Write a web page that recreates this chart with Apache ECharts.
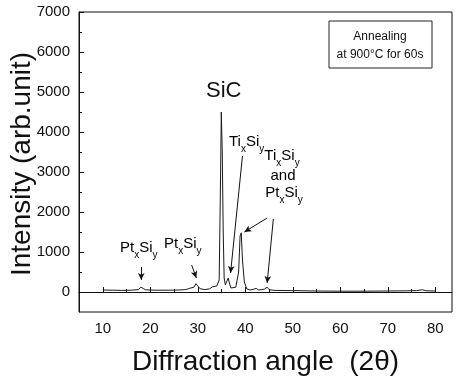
<!DOCTYPE html>
<html>
<head>
<meta charset="utf-8">
<script src="https://cdn.jsdelivr.net/npm/echarts@6/dist/echarts.min.js"></script>
<style>
html,body{margin:0;padding:0;background:#fff;}
#chart{width:456px;height:379px;}
</style>
</head>
<body>
<div id="chart"></div>
<script>
// Diffraction angle (2θ) and intensity (arb. unit)
var angles = [10, 12, 14, 16, 17.5, 18.0, 18.2, 18.5, 19, 21, 24, 26, 27.5, 28.2, 28.6, 29.2, 29.6, 30.0, 30.5, 31.5, 32.5, 33.1, 33.5, 34.0, 34.3, 34.5, 34.75, 34.95, 35.15, 35.35, 35.55, 35.8, 36.1, 36.4, 36.7, 37.0, 37.4, 38.0, 38.6, 38.9, 39.15, 39.4, 39.8, 40.3, 41, 41.8, 42.3, 42.8, 43.5, 44.0, 44.6, 45.0, 46, 50, 55, 60, 65, 70, 74, 76, 77.3, 78, 80];
var intensity = [50, 45, 40, 45, 60, 120, 150, 90, 55, 45, 45, 50, 60, 90, 70, 120, 210, 150, 80, 60, 80, 130, 90, 150, 200, 300, 2500, 4500, 3500, 1500, 350, 180, 200, 350, 200, 100, 80, 120, 500, 1400, 1480, 800, 250, 80, 50, 70, 90, 50, 60, 70, 120, 60, 40, 35, 25, 20, 20, 25, 30, 35, 55, 30, 25];
var xMajorTicks = [10, 20, 30, 40, 50, 60, 70, 80];
var xMinorTicks = [15, 25, 35, 45, 55, 65, 75];
var yMajorTicks = [0, 1000, 2000, 3000, 4000, 5000, 6000, 7000];
var yMinorTicks = [500, 1500, 2500, 3500, 4500, 5500, 6500];
// annotation arrows: [fromAngle, fromIntensity, toAngle, toIntensity]
var arrows = [
  [18.1, 625, 18.1, 300],
  [28.7, 675, 29.7, 350],
  [39.4, 3400, 36.9, 475],
  [44.6, 1850, 39.8, 1500],
  [45.9, 1825, 44.6, 225]
];

var seriesData = angles.map(function (a, i) { return [a, intensity[i]]; });
var FONT = '"Liberation Sans", Arial, sans-serif';

var chart = echarts.init(document.getElementById('chart'), null, {renderer: 'canvas'});

function subLabel(main1, sub1, main2, sub2) {
  return '{m|' + main1 + '}{s|' + sub1 + '}{m|' + main2 + '}{s|' + sub2 + '}';
}
var rich = {
  m: {fontSize: 15, fontFamily: FONT, color: '#111', lineHeight: 20, verticalAlign: 'top'},
  s: {fontSize: 10, fontFamily: FONT, color: '#111', lineHeight: 8, verticalAlign: 'bottom'}
};
function plain(v) { return String(v); }

var option = {
  animation: false,
  backgroundColor: '#fff',
  grid: {left: 79, right: 4, top: 12, bottom: 67, outerBoundsMode: 'none', containLabel: false,
         show: true, borderColor: '#111', borderWidth: 1, backgroundColor: 'transparent'},
  xAxis: [{
    type: 'value', min: 5, max: 83.5,
    axisLine: {lineStyle: {color: '#111', width: 1}},
    axisTick: {inside: true, length: 5, customValues: xMajorTicks, lineStyle: {color: '#111'}},
    axisLabel: {customValues: xMajorTicks, formatter: plain, color: '#111', fontSize: 15, fontFamily: FONT, margin: 9},
    splitLine: {show: false},
    name: 'Diffraction angle  (2θ)', nameLocation: 'middle', nameGap: 36,
    nameTextStyle: {fontSize: 28, fontFamily: FONT, color: '#111'}
  }, {
    type: 'value', min: 5, max: 83.5, position: 'bottom',
    axisLine: {show: false},
    axisTick: {inside: true, length: 3, customValues: xMinorTicks, lineStyle: {color: '#111'}},
    axisLabel: {show: false}, splitLine: {show: false}
  }],
  yAxis: [{
    type: 'value', min: -500, max: 7000,
    axisLine: {show: true, lineStyle: {color: '#111', width: 1}},
    axisTick: {show: true, inside: true, length: 5, customValues: yMajorTicks, lineStyle: {color: '#111'}},
    axisLabel: {customValues: yMajorTicks, formatter: plain, color: '#111', fontSize: 15, fontFamily: FONT, margin: 9},
    splitLine: {show: false}
  }, {
    type: 'value', min: -500, max: 7000, position: 'left',
    axisLine: {show: false},
    axisTick: {show: true, inside: true, length: 3, customValues: yMinorTicks, lineStyle: {color: '#111'}},
    axisLabel: {show: false}, splitLine: {show: false}
  }],
  series: [{
    type: 'line',
    data: seriesData,
    showSymbol: false,
    lineStyle: {color: '#1a1a1a', width: 1},
    silent: true,
    markLine: {
      silent: true,
      symbol: ['none', 'arrow'],
      symbolSize: [5, 7],
      lineStyle: {color: '#111', width: 1, type: 'solid'},
      label: {show: false},
      data: arrows.map(function (a) {
        return [{coord: [a[0], a[1]]}, {coord: [a[2], a[3]]}];
      })
    }
  }],
  graphic: [
    {type: 'text', x: 22, y: 164, rotation: Math.PI / 2, style: {text: 'Intensity (arb.unit)', fontSize: 28, fontFamily: FONT, fill: '#111', align: 'center', verticalAlign: 'middle'}},
    {type: 'rect', shape: {x: 329, y: 21, width: 103, height: 47}, style: {fill: '#fff', stroke: '#222', lineWidth: 1}},
    {type: 'text', x: 380, y: 37, style: {text: 'Annealing', fontSize: 12, fontFamily: FONT, fill: '#111', align: 'center', verticalAlign: 'middle'}},
    {type: 'text', x: 380, y: 55, style: {text: 'at 900°C for 60s', fontSize: 12, fontFamily: FONT, fill: '#111', align: 'center', verticalAlign: 'middle'}},
    {type: 'text', x: 206, y: 80, style: {text: 'SiC', fontSize: 22, fontFamily: FONT, fill: '#111', align: 'left', verticalAlign: 'top'}},
    {type: 'text', x: 229, y: 134, style: {text: subLabel('Ti', 'x', 'Si', 'y'), rich: rich, align: 'left', verticalAlign: 'top'}},
    {type: 'text', x: 282, y: 148, style: {text: subLabel('Ti', 'x', 'Si', 'y'), rich: rich, align: 'center', verticalAlign: 'top'}},
    {type: 'text', x: 283, y: 168, style: {text: '{m|and}', rich: rich, align: 'center', verticalAlign: 'top'}},
    {type: 'text', x: 284, y: 185, style: {text: subLabel('Pt', 'x', 'Si', 'y'), rich: rich, align: 'center', verticalAlign: 'top'}},
    {type: 'text', x: 120, y: 240, style: {text: subLabel('Pt', 'x', 'Si', 'y'), rich: rich, align: 'left', verticalAlign: 'top'}},
    {type: 'text', x: 164, y: 236, style: {text: subLabel('Pt', 'x', 'Si', 'y'), rich: rich, align: 'left', verticalAlign: 'top'}}
  ]
};
chart.setOption(option);
</script>
</body>
</html>
